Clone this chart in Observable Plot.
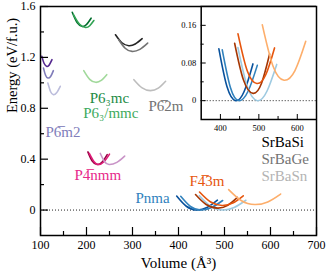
<!DOCTYPE html>
<html>
<head>
<meta charset="utf-8">
<script src="https://cdn.jsdelivr.net/npm/d3@7"></script>
<script src="https://cdn.jsdelivr.net/npm/@observablehq/plot@0.6"></script>
<style>
  html, body { margin: 0; padding: 0; background: white; }
  #wrap { position: relative; width: 326px; height: 275px; }
  #wrap svg { position: absolute; top: 0; font-family: "Liberation Serif", "Times New Roman", "DejaVu Serif", serif !important; }
  #wrap svg text, #wrap svg g { font-family: "Liberation Serif", "Times New Roman", "DejaVu Serif", serif !important; }
</style>
</head>
<body>
<div id="wrap"></div>
<script>
// ---- data (Volume in Å^3, Energy in eV/f.u.), one curve per compound: SrBaSi, SrBaGe, SrBaSn
const compounds = ["SrBaSi", "SrBaGe", "SrBaSn"];

const pnmaCurves = [
  [[396, 0.110], [417, 0.030], [439.5, 0.000], [462, 0.020], [484.6, 0.078]],
  [[404.8, 0.108], [426, 0.028], [448, 0.000], [472, 0.020], [496, 0.075]],
  [[445.5, 0.113], [470, 0.030], [496, 0.000], [521, 0.020], [546.5, 0.077]]
];
const f43mCurves = [
  [[437, 0.122], [460, 0.044], [485, 0.0155], [507, 0.037], [528, 0.099]],
  [[445.7, 0.142], [470, 0.063], [494.8, 0.0364], [518, 0.055], [540.8, 0.112]],
  [[509, 0.161], [537, 0.073], [565.5, 0.0433], [594, 0.064], [622, 0.126]]
];
const p4nmmCurves = [
  [[203, 0.457], [212, 0.388], [223, 0.358], [234, 0.377], [245, 0.436]],
  [[206, 0.445], [216, 0.382], [226, 0.358], [238, 0.380], [250, 0.440]],
  [[230, 0.445], [239, 0.382], [249, 0.358], [266, 0.375], [283, 0.424]]
];
const p6m2Curves = [
  [[103, 1.208], [108, 1.152], [114, 1.129], [119, 1.140], [125, 1.182]],
  [[106.5, 1.116], [111, 1.060], [116, 1.038], [122, 1.050], [128, 1.096]],
  [[116, 0.998], [122, 0.930], [128, 0.907], [135, 0.922], [143, 0.973]]
];
const p63mcCurves = [
  [[169, 1.555], [180, 1.471], [191, 1.443], [200, 1.458], [210, 1.508]],
  [[172, 1.535], [185, 1.460], [198, 1.435], [207, 1.449], [216, 1.490]],
  [[194, 1.096], [207, 1.027], [220, 1.004], [232, 1.019], [244, 1.064]]
];
const p62mCurves = [
  [[263, 1.378], [277, 1.315], [292, 1.292], [306, 1.305], [321, 1.347]],
  [[270, 1.339], [284, 1.272], [299, 1.247], [316, 1.263], [333, 1.312]],
  [[303, 1.025], [321, 0.960], [339, 0.939], [356, 0.958], [372, 1.012]]
];

// colours per structure (Si, Ge, Sn)
const pnmaColors = ["#08519c", "#3182bd", "#9ecae1"];
const f43mColors = ["#a63603", "#e6550d", "#fdae6b"];
const p4nmmColors = ["#980043", "#dd1c77", "#c994c7"];
const p6m2Colors = ["#54278f", "#807dba", "#bcbddc"];
const p63mcColors = ["#006d2c", "#31a354", "#a1d99b"];
const p62mColors = ["#252525", "#737373", "#bdbdbd"];

// structure labels
const labelText = ["P6\u2083mc", "P6\u2083/mmc", "P6\u03052m", "P6\u0305m2", "P4\u0305nmm", "Pnma", "F4\u03053m"];
const labelV = [207, 192.8, 334.8, 110.9, 173.9, 306.5, 423.9];
const labelE = [0.839, 0.722, 0.776, 0.576, 0.235, 0.055, 0.188];
const labelColors = ["#238b45", "#41ab5d", "#737373", "#807dba", "#e7298a", "#3182bd", "#e6550d"];

// legend (compound names)
const legendV = [580.4, 580.4, 580.4];
const legendE = [0.494, 0.361, 0.231];
const legendColors = ["#000000", "#737373", "#b3b3b3"];

// axes
const xMajor = [100, 200, 300, 400, 500, 600, 700];
const xMinor = [150, 250, 350, 450, 550, 650];
const yMajor = [0, 0.4, 0.8, 1.2, 1.6];
const yMinor = [0.2, 0.6, 1.0, 1.4];
const insetXMajor = [400, 500, 600];
const insetXMinor = [450, 550];
const insetYMajor = [0, 0.08, 0.16];
const insetYMinor = [0.04, 0.12];
const xTitle = "Volume (\u00C5\u00B3)";
const yTitle = "Energy (eV/f.u.)";

// ---- build tables
function toRows(curves, colors, structure) {
  const rows = [];
  curves.forEach((pts, i) => pts.forEach(([v, e]) => rows.push({structure, compound: compounds[i], id: structure + compounds[i], v, e, color: colors[i]})));
  return rows;
}
const allRows = [
  ...toRows(p62mCurves, p62mColors, "P-62m"),
  ...toRows(p63mcCurves, p63mcColors, "P63mc"),
  ...toRows(p6m2Curves, p6m2Colors, "P-6m2"),
  ...toRows(p4nmmCurves, p4nmmColors, "P-4nmm"),
  ...toRows(pnmaCurves, pnmaColors, "Pnma"),
  ...toRows(f43mCurves, f43mColors, "F-43m")
];
const insetRows = [
  ...toRows(pnmaCurves, pnmaColors, "Pnma"),
  ...toRows(f43mCurves, f43mColors, "F-43m")
];
const labels = labelText.map((t, i) => ({t, v: labelV[i], e: labelE[i], c: labelColors[i]}));
const legend = compounds.map((t, i) => ({t, v: legendV[i], e: legendE[i], c: legendColors[i]}));

const font = "Liberation Serif, Times New Roman, DejaVu Serif, serif";
const empty = () => "";

const main = Plot.plot({
  width: 326, height: 275,
  marginLeft: 40, marginRight: 10, marginTop: 6, marginBottom: 40,
  style: {fontFamily: font, fontSize: "12px", background: "white", color: "black"},
  x: {domain: [100, 700]},
  y: {domain: [-0.2, 1.6]},
  color: {type: "identity"},
  marks: [
    Plot.ruleY([0], {stroke: "#222", strokeDasharray: "1,2"}),
    Plot.line(allRows, {x: "v", y: "e", z: "id", stroke: "color", strokeWidth: 1.6, curve: "natural"}),
    Plot.axisX({ticks: xMajor, tickSize: -8, tickFormat: empty, label: null, strokeWidth: 1.2}),
    Plot.axisX({ticks: xMinor, tickSize: -4, tickFormat: empty, label: null, strokeWidth: 1.2}),
    Plot.axisX({ticks: xMajor, tickSize: 0, tickPadding: 5, tickFormat: String, label: null, fontFamily: font}),
    Plot.axisY({ticks: yMajor, tickSize: -8, tickFormat: empty, label: null, strokeWidth: 1.2}),
    Plot.axisY({ticks: yMinor, tickSize: -4, tickFormat: empty, label: null, strokeWidth: 1.2}),
    Plot.axisY({ticks: yMajor, tickSize: 0, tickPadding: 5, tickFormat: String, label: null, fontFamily: font}),
    Plot.text(labels, {x: "v", y: "e", text: "t", fill: "c", textAnchor: "start", lineAnchor: "bottom", fontSize: 15, fontFamily: font}),
    Plot.text(legend, {x: "v", y: "e", text: "t", fill: "c", textAnchor: "start", lineAnchor: "bottom", fontSize: 15, fontFamily: font}),
    Plot.text([xTitle], {frameAnchor: "bottom", dy: 32, lineAnchor: "bottom", fontSize: 15, fontFamily: font}),
    Plot.text([yTitle], {frameAnchor: "left", rotate: -90, dx: -28, dy: -8, fontSize: 14.5, fontFamily: font}),
    Plot.frame({stroke: "black", strokeWidth: 1.5})
  ]
});

const inset = Plot.plot({
  width: 146, height: 140,
  marginLeft: 30.7, marginRight: 0, marginTop: 6, marginBottom: 21,
  style: {fontFamily: font, fontSize: "8.5px", background: "transparent", color: "black"},
  x: {domain: [350, 650]},
  y: {domain: [-0.04, 0.2]},
  color: {type: "identity"},
  marks: [
    Plot.frame({fill: "white", stroke: null}),
    Plot.ruleY([0], {stroke: "#222", strokeDasharray: "1,2"}),
    Plot.line(insetRows, {x: "v", y: "e", z: "id", stroke: "color", strokeWidth: 1.6, curve: "natural"}),
    Plot.axisX({ticks: insetXMajor, tickSize: -5, tickFormat: empty, label: null}),
    Plot.axisX({ticks: insetXMinor, tickSize: -3, tickFormat: empty, label: null}),
    Plot.axisX({ticks: insetXMajor, tickSize: 0, tickPadding: 5, tickFormat: String, label: null, fontFamily: font}),
    Plot.axisY({ticks: insetYMajor, tickSize: -5, tickFormat: empty, label: null}),
    Plot.axisY({ticks: insetYMinor, tickSize: -3, tickFormat: empty, label: null}),
    Plot.axisY({ticks: insetYMajor, tickSize: 0, tickPadding: 5, tickFormat: String, label: null, fontFamily: font}),
    Plot.frame({stroke: "black", strokeWidth: 1.5})
  ]
});

const wrap = document.getElementById("wrap");
main.style.left = "0px";
inset.style.left = "170px";
wrap.appendChild(main);
wrap.appendChild(inset);
</script>
</body>
</html>
